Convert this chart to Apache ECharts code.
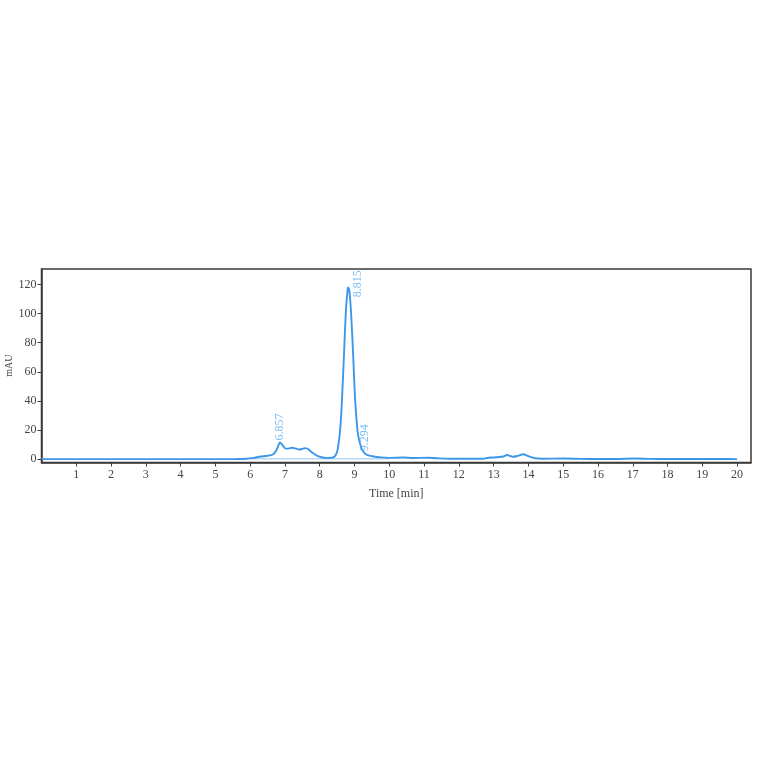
<!DOCTYPE html>
<html>
<head>
<meta charset="utf-8">
<script src="https://cdn.jsdelivr.net/npm/echarts@6/dist/echarts.min.js"></script>
<style>
html, body { margin: 0; padding: 0; background: #fff; }
#container { width: 764px; height: 764px; }
</style>
</head>
<body>
<div id="container"></div>
<script>
// chromatogram trace [time min, mAU]
var signal = [
    [0, 0], [1, 0], [2, 0], [3, 0], [4, 0], [5, 0], [5.6, 0.1], [5.9, 0.3],
    [6.1, 0.9], [6.3, 1.8], [6.5, 2.3], [6.65, 3.2], [6.75, 6], [6.82, 10],
    [6.857, 11.5], [6.92, 10], [7.0, 7.5], [7.1, 7.2], [7.2, 7.8], [7.3, 7.4],
    [7.42, 6.6], [7.52, 7.2], [7.6, 7.6], [7.7, 6.2], [7.8, 4.2], [7.92, 2.4],
    [8.05, 1.3], [8.2, 0.9], [8.35, 1.0], [8.45, 2.4], [8.52, 7], [8.6, 24],
    [8.68, 62], [8.75, 101], [8.8, 116], [8.815, 118], [8.85, 116], [8.9, 101],
    [8.96, 72], [9.02, 40], [9.1, 17], [9.2, 7.5], [9.294, 4], [9.4, 2.6],
    [9.55, 1.8], [9.75, 1.2], [10.0, 0.9], [10.4, 1.1], [10.7, 0.8], [11.1, 1.0],
    [11.4, 0.6], [11.8, 0.3], [12.3, 0.3], [12.7, 0.3], [12.85, 1.0], [13.1, 1.3],
    [13.28, 1.8], [13.38, 2.8], [13.55, 1.6], [13.7, 2.3], [13.85, 3.4],
    [14.0, 2.0], [14.2, 0.6], [14.4, 0.3], [15, 0.4], [15.5, 0.2], [16, 0.1],
    [16.5, 0.1], [17.05, 0.4], [17.5, 0.2], [18, 0.1], [18.3, 0.2], [19, 0.1],
    [19.5, 0.1], [20, 0]
];
// integration baseline under the main peaks
var baseline = [[6.0, 0.2], [10.0, 0.2]];

var peakTimes = [6.857, 8.815, 9.294];
var peakHeights = [11.5, 118, 4];
var peakLabels = ['6.857', '8.815', '9.294'];

var xTicks = [1, 2, 3, 4, 5, 6, 7, 8, 9, 10, 11, 12, 13, 14, 15, 16, 17, 18, 19, 20];
var yTicks = [0, 20, 40, 60, 80, 100, 120];

var labelShift = [[0, -2], [10, 10], [0, -2]];

var dom = document.getElementById('container');
var myChart = echarts.init(dom);

var fontFam = '"Liberation Serif", "DejaVu Serif", serif';

var peakData = peakTimes.map(function (t, i) {
    return {
        value: [t, peakHeights[i]],
        name: peakLabels[i],
        label: { position: labelShift[i] }
    };
});

option = {
    backgroundColor: '#fff',
    animation: false,
    grid: {
        left: 41.5,
        right: 13,
        top: 269,
        bottom: 301.5,
        containLabel: false,
        outerBoundsMode: 'none',
        show: true,
        borderColor: '#3a3a3a',
        borderWidth: 1.5,
        backgroundColor: 'transparent'
    },
    xAxis: {
        type: 'value',
        min: 0,
        max: 20.4,
        name: 'Time [min]',
        nameLocation: 'middle',
        nameGap: 25,
        nameMoveOverlap: false,
        nameTextStyle: { color: '#444', fontSize: 12, fontFamily: fontFam },
        axisLine: { show: true, onZero: false, lineStyle: { color: '#3a3a3a', width: 1.5 } },
        axisTick: { show: true, length: 4, customValues: xTicks, lineStyle: { color: '#3a3a3a' } },
        axisLabel: { customValues: xTicks, color: '#444', fontSize: 12, fontFamily: fontFam, margin: 6 },
        splitLine: { show: false }
    },
    yAxis: {
        type: 'value',
        min: -2.3,
        max: 130.6,
        name: 'mAU',
        nameLocation: 'middle',
        nameGap: 27,
        nameMoveOverlap: false,
        nameTextStyle: { color: '#444', fontSize: 10, fontFamily: fontFam },
        axisLine: { show: true, onZero: false, lineStyle: { color: '#3a3a3a', width: 1.5 } },
        axisTick: { show: true, length: 4, customValues: yTicks, lineStyle: { color: '#3a3a3a' } },
        axisLabel: { customValues: yTicks, color: '#444', fontSize: 12, fontFamily: fontFam, margin: 5 },
        splitLine: { show: false }
    },
    series: [
        {
            name: 'baseline',
            type: 'line',
            data: baseline,
            symbol: 'none',
            lineStyle: { color: '#7fbaf0', width: 0.8 },
            z: 1
        },
        {
            name: 'signal',
            type: 'line',
            data: signal,
            symbol: 'none',
            smooth: 0.3,
            lineStyle: { color: '#3d97e8', width: 1.9 },
            z: 2
        },
        {
            name: 'peaks',
            type: 'scatter',
            data: peakData,
            symbolSize: 0,
            label: {
                show: true,
                formatter: '{b}',
                rotate: 90,
                align: 'left',
                verticalAlign: 'middle',
                color: '#5aaaf0',
                fontSize: 12,
                fontFamily: fontFam
            },
            z: 3
        }
    ]
};
if (option && typeof option === "object") {
    myChart.setOption(option, true);
}
</script>
</body>
</html>
